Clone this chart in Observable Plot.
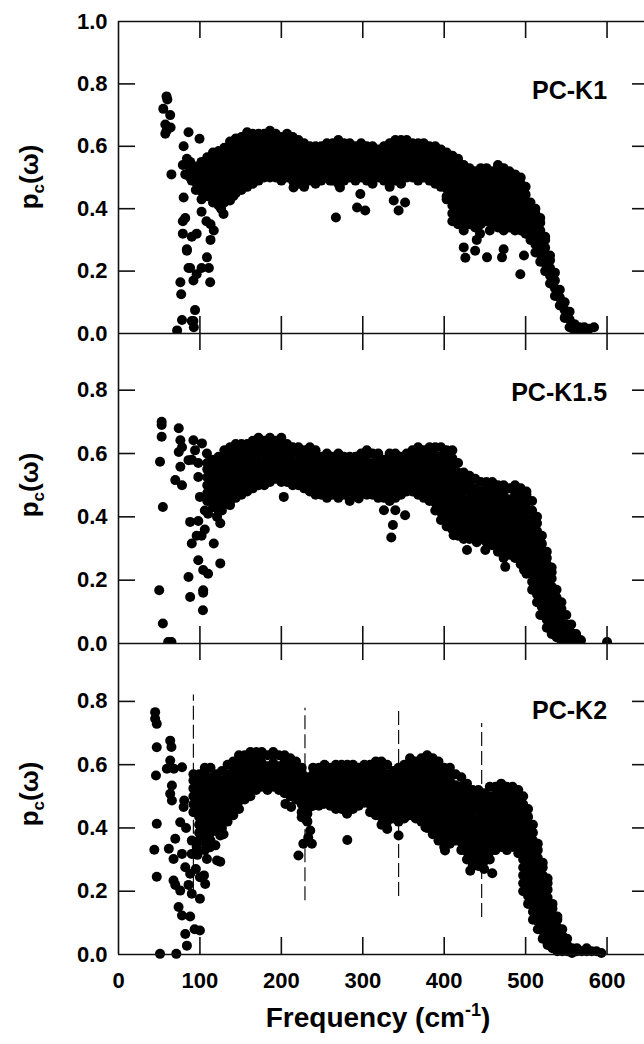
<!DOCTYPE html>
<html>
<head>
<meta charset="utf-8">
<script src="https://cdn.jsdelivr.net/npm/d3@7"></script>
<script src="https://cdn.jsdelivr.net/npm/@observablehq/plot@0.6"></script>
<style>
  html, body { margin: 0; padding: 0; background: #fff; overflow: hidden; }
  #chart { position: relative; width: 644px; height: 1044px; overflow: hidden; }
  #chart svg { position: absolute; left: 0; overflow: visible; background: transparent; }
</style>
</head>
<body>
<div id="chart"></div>
<script>
// ---------- data ----------
const panelNames = ["PC-K1", "PC-K1.5", "PC-K2"];
const xTicks = [0, 100, 200, 300, 400, 500, 600];
const xTickMarks = [100, 200, 300, 400, 500, 600];
const yTicksTop = [0, 0.2, 0.4, 0.6, 0.8, 1.0];
const yTicksLow = [0, 0.2, 0.4, 0.6, 0.8];
const yTickMarks = [0.2, 0.4, 0.6, 0.8];

// dense band, by frequency column: [frequency, p values...]
const k1Cols = [
[88,.5,.525,.55],[95,.46,.485,.51,.535],[102,.43,.455,.48,.505,.53,.55],[109,.44,.465,.49,.515,.54,.565],
[116,.42,.445,.47,.495,.52,.545,.57,.58],[123,.41,.435,.46,.485,.51,.535,.56,.585],
[130,.42,.445,.47,.495,.52,.545,.57,.595],[137,.44,.465,.49,.515,.54,.565,.59,.615],
[144,.45,.475,.5,.525,.55,.575,.6,.625],[151,.46,.485,.51,.535,.56,.585,.61,.63],
[158,.47,.495,.52,.545,.57,.595,.62,.645],[165,.48,.505,.53,.555,.58,.605,.63,.64],
[172,.49,.515,.54,.565,.59,.615,.64],[179,.5,.525,.55,.575,.6,.625,.64],[186,.5,.525,.55,.575,.6,.625,.65],
[193,.5,.525,.55,.575,.6,.625,.64],[200,.49,.515,.54,.565,.59,.615,.63],[207,.5,.525,.55,.575,.6,.625,.64],
[214,.49,.515,.54,.565,.59,.615,.63],[221,.48,.505,.53,.555,.58,.605,.62],[228,.47,.495,.52,.545,.57,.595,.61],
[235,.49,.515,.54,.565,.59,.6],[242,.48,.505,.53,.555,.58,.6],[249,.49,.515,.54,.565,.59,.6],
[256,.5,.525,.55,.575,.6,.61],[263,.49,.515,.54,.565,.59,.61],[270,.48,.505,.53,.555,.58,.605,.62],
[277,.49,.515,.54,.565,.59,.61],[284,.5,.525,.55,.575,.6,.61],[291,.49,.515,.54,.565,.59,.6],
[298,.5,.525,.55,.575,.6,.61],[305,.49,.515,.54,.565,.59,.6],[312,.48,.505,.53,.555,.58,.6],
[319,.5,.525,.55,.575,.59],[326,.49,.515,.54,.565,.59,.6],[333,.47,.495,.52,.545,.57,.595,.61],
[340,.49,.515,.54,.565,.59,.615,.62],[347,.48,.505,.53,.555,.58,.605,.62],[354,.5,.525,.55,.575,.6,.62],
[361,.5,.525,.55,.575,.6,.61],[368,.49,.515,.54,.565,.59,.61],[375,.5,.525,.55,.575,.6,.61],
[382,.49,.515,.54,.565,.59,.6],[389,.48,.505,.53,.555,.58,.6],[396,.47,.495,.52,.545,.57,.59],
[403,.44,.465,.49,.515,.54,.565,.58],[410,.36,.385,.41,.435,.46,.485,.51,.535,.56,.57],
[417,.35,.375,.4,.425,.45,.475,.5,.525,.55,.56],[424,.36,.385,.41,.435,.46,.485,.51,.535,.54],
[431,.35,.375,.4,.425,.45,.475,.5,.525,.53],[438,.34,.365,.39,.415,.44,.465,.49,.515,.52],
[445,.35,.375,.4,.425,.45,.475,.5,.525,.53],[452,.36,.385,.41,.435,.46,.485,.51,.53],
[459,.35,.375,.4,.425,.45,.475,.5,.52],[466,.34,.365,.39,.415,.44,.465,.49,.515,.54],
[473,.33,.355,.38,.405,.43,.455,.48,.505,.53],[480,.34,.365,.39,.415,.44,.465,.49,.515,.52],
[487,.33,.355,.38,.405,.43,.455,.48,.505,.51],[494,.33,.355,.38,.405,.43,.455,.48,.5],
[500,.32,.345,.37,.395,.42,.445,.47],[506,.3,.325,.35,.375,.4,.42],[512,.26,.285,.31,.335,.36,.385,.4],
[518,.23,.255,.28,.305,.33,.355,.37],[524,.2,.225,.25,.275,.3,.31],[530,.16,.185,.21,.235,.25],
[536,.12,.145,.17,.195],[542,.09,.115,.14],[548,.05,.075,.1],[554,.02,.045,.07],[560,.01,.03],
[566,.01,.02],[572,.01,.02],[578,.015],[584,.02]
];
const k1Out = [
[59,.76],[60,.75],[55,.72],[63.5,.70],[57.5,.67],[64,.66],[59,.65],[57.5,.64],[65,.51],[86,.645],
[99.5,.624],[80,.60],[84,.56],[79,.54],[82,.51],[90,.49],[100,.475],[80,.436],[82,.37],[79,.36],
[79,.32],[84,.27],[90,.31],[96,.32],[102,.39],[108,.36],[113,.35],[117,.33],[113,.30],[86,.21],
[92,.17],[96,.19],[102,.21],[108.6,.244],[111,.21],[112.6,.164],[76,.164],[77,.126],[94,.075],
[78,.043],[90,.04],[72,.01],[92,.04],[92.5,.02],[84,.265],[88,.21],[129,.383],[126,.40],[137,.426],
[141,.44],[215,.468],[267,.372],[293,.404],[303,.394],[344,.394],[352,.42],[338,.426],[272,.468],
[297,.447],[260,.49],[403,.43],[424,.33],[424,.276],[426,.243],[438,.265],[440,.30],[452.6,.244],
[471,.244],[473,.27],[444,.32],[456,.33],[493.5,.19],[498,.25]
];

const k2Cols = [
[109,.45,.475,.5,.525,.55,.57],[116,.43,.455,.48,.505,.53,.555,.58],[123,.42,.445,.47,.495,.52,.545,.57,.59],
[130,.44,.465,.49,.515,.54,.565,.59,.61],[137,.45,.475,.5,.525,.55,.575,.6,.62],
[144,.46,.485,.51,.535,.56,.585,.61,.63],[151,.47,.495,.52,.545,.57,.595,.62,.63],
[158,.48,.505,.53,.555,.58,.605,.63],[165,.49,.515,.54,.565,.59,.615,.64],[172,.5,.525,.55,.575,.6,.625,.65],
[179,.5,.525,.55,.575,.6,.625,.64],[186,.51,.535,.56,.585,.61,.635,.65],[193,.52,.545,.57,.595,.62,.64],
[200,.51,.535,.56,.585,.61,.635,.65],[207,.51,.535,.56,.585,.61,.63],[214,.5,.525,.55,.575,.6,.62],
[221,.5,.525,.55,.575,.6,.62],[228,.49,.515,.54,.565,.59,.61],[235,.48,.505,.53,.555,.58,.605,.62],
[242,.47,.495,.52,.545,.57,.595,.61],[249,.47,.495,.52,.545,.57,.59],[256,.46,.485,.51,.535,.56,.585,.6],
[263,.47,.495,.52,.545,.57,.59],[270,.46,.485,.51,.535,.56,.585,.6],[277,.47,.495,.52,.545,.57,.59],
[284,.48,.505,.53,.555,.58,.59],[291,.47,.495,.52,.545,.57,.59],[298,.48,.505,.53,.555,.58,.6],
[305,.47,.495,.52,.545,.57,.595,.61],[312,.47,.495,.52,.545,.57,.6],[319,.46,.485,.51,.535,.56,.585,.6],
[326,.46,.485,.51,.535,.56,.58],[333,.45,.475,.5,.525,.55,.575,.6],[340,.46,.485,.51,.535,.56,.585,.6],
[347,.47,.495,.52,.545,.57,.59],[354,.48,.505,.53,.555,.58,.6],[361,.48,.505,.53,.555,.58,.61],
[368,.47,.495,.52,.545,.57,.595,.62],[375,.46,.485,.51,.535,.56,.585,.61],
[382,.45,.475,.5,.525,.55,.575,.6,.62],[389,.42,.445,.47,.495,.52,.545,.57,.595,.62],
[396,.39,.415,.44,.465,.49,.515,.54,.565,.59,.62],[403,.37,.395,.42,.445,.47,.495,.52,.545,.57,.595,.61],
[410,.36,.385,.41,.435,.46,.485,.51,.535,.56,.585,.61],[417,.34,.365,.39,.415,.44,.465,.49,.515,.54,.57],
[424,.33,.355,.38,.405,.43,.455,.48,.505,.53,.54],[431,.33,.355,.38,.405,.43,.455,.48,.505,.53],
[438,.34,.365,.39,.415,.44,.465,.49,.52],[445,.33,.355,.38,.405,.43,.455,.48,.51],
[452,.32,.345,.37,.395,.42,.445,.47,.495,.51],[459,.31,.335,.36,.385,.41,.435,.46,.485,.51],
[466,.29,.315,.34,.365,.39,.415,.44,.465,.49,.5],[473,.27,.295,.32,.345,.37,.395,.42,.445,.47,.5],
[480,.28,.305,.33,.355,.38,.405,.43,.455,.49],[487,.27,.295,.32,.345,.37,.395,.42,.445,.47,.5],
[494,.25,.275,.3,.325,.35,.375,.4,.425,.45,.475,.49],[501,.22,.245,.27,.295,.32,.345,.37,.395,.42,.445,.47,.48],
[508,.17,.195,.22,.245,.27,.295,.32,.345,.37,.395,.42,.45],[514,.13,.155,.18,.205,.23,.255,.28,.305,.33,.355,.38,.4],
[520,.09,.115,.14,.165,.19,.215,.24,.265,.29,.315,.34],[526,.05,.075,.1,.125,.15,.175,.2,.225,.25,.27,.29],
[532,.03,.055,.08,.105,.13,.155,.18,.205,.225,.24],[538,.02,.045,.07,.095,.12,.145,.17],
[544,.01,.035,.06,.085,.11,.13],[550,.01,.035,.06,.09],[556,.01,.035,.06],[562,.01,.03],[568,.01]
];
const k2Out = [
[53,.70],[53,.69],[53,.653],[51,.574],[54.5,.431],[50,.168],[54.5,.063],[61,.005],[65,.005],[74,.68],
[76,.642],[74,.605],[78,.62],[69.7,.516],[78,.5],[76,.558],[86,.579],[92,.642],[102.5,.632],[94,.61],
[90,.58],[98,.57],[108.6,.60],[98,.526],[100,.463],[88,.384],[98,.387],[90,.316],[96,.34],[106,.36],
[102,.34],[117,.316],[125,.253],[98,.263],[104,.232],[110,.22],[86,.21],[88,.147],[104,.168],[104,.16],
[103.7,.105],[110,.41],[106,.42],[121,.40],[127,.42],[137,.437],[150,.474],[125,.38],[203,.463],
[295,.458],[284,.45],[326,.421],[340,.421],[352,.405],[337,.374],[335,.335],[395,.431],[403,.395],
[411.6,.342],[420,.36],[428,.295],[440,.32],[450.5,.295],[475,.242],[498,.232],[518,.131],[518,.09],
[538.6,.074],[547,.02],[567,.01],[600,.005]
];

const k3Cols = [
[92,.45,.475,.5,.525,.55,.57],[99,.36,.385,.41,.435,.46,.485,.51,.535,.56,.57],
[106,.33,.355,.38,.405,.43,.455,.48,.505,.53,.555,.58,.59],[113,.36,.385,.41,.435,.46,.485,.51,.535,.56,.59],
[120,.39,.415,.44,.465,.49,.515,.54,.57],[127,.4,.425,.45,.475,.5,.525,.55,.58],
[134,.42,.445,.47,.495,.52,.545,.57,.6],[141,.44,.465,.49,.515,.54,.565,.59,.61],
[148,.46,.485,.51,.535,.56,.585,.61,.63],[155,.49,.515,.54,.565,.59,.615,.63],
[162,.5,.525,.55,.575,.6,.625,.64],[169,.52,.545,.57,.595,.62,.64],[176,.53,.555,.58,.605,.63,.64],
[183,.52,.545,.57,.595,.63],[190,.53,.555,.58,.605,.63,.64],[197,.52,.545,.57,.595,.63],
[204,.51,.535,.56,.585,.61,.63],[211,.5,.525,.55,.575,.6,.62],[218,.49,.515,.54,.565,.59,.61],
[225,.45,.475,.5,.525,.55,.575,.59],[232,.42,.445,.47,.495,.52,.545,.56],[239,.47,.495,.52,.545,.57,.59],
[246,.47,.495,.52,.545,.57,.59],[253,.48,.505,.53,.555,.58,.6],[260,.47,.495,.52,.545,.57,.59],
[267,.46,.485,.51,.535,.56,.585,.6],[274,.46,.485,.51,.535,.56,.585,.6],[281,.45,.475,.5,.525,.55,.575,.6],
[288,.46,.485,.51,.535,.56,.585,.6],[295,.47,.495,.52,.545,.57,.59],[302,.48,.505,.53,.555,.58,.6],
[309,.45,.475,.5,.525,.55,.575,.6],[316,.44,.465,.49,.515,.54,.565,.59,.61],
[323,.41,.435,.46,.485,.51,.535,.56,.585,.61],[330,.42,.445,.47,.495,.52,.545,.57,.6],
[337,.43,.455,.48,.505,.53,.555,.58],[344,.42,.445,.47,.495,.52,.545,.57,.59],
[351,.43,.455,.48,.505,.53,.555,.58,.6],[358,.44,.465,.49,.515,.54,.565,.59,.62],
[365,.43,.455,.48,.505,.53,.555,.58,.61],[372,.42,.445,.47,.495,.52,.545,.57,.595,.62],
[379,.4,.425,.45,.475,.5,.525,.55,.575,.6,.63],[386,.38,.405,.43,.455,.48,.505,.53,.555,.58,.605,.62],
[393,.36,.385,.41,.435,.46,.485,.51,.535,.56,.585,.61],[400,.34,.365,.39,.415,.44,.465,.49,.515,.54,.565,.59],
[407,.35,.375,.4,.425,.45,.475,.5,.525,.55,.575,.59],[414,.36,.385,.41,.435,.46,.485,.51,.535,.57],
[421,.33,.355,.38,.405,.43,.455,.48,.505,.53,.56],[428,.3,.325,.35,.375,.4,.425,.45,.475,.5,.525,.54],
[435,.28,.305,.33,.355,.38,.405,.43,.455,.48,.505,.52],[442,.28,.305,.33,.355,.38,.405,.43,.455,.48,.505,.52],
[449,.27,.295,.32,.345,.37,.395,.42,.445,.47,.495,.51],[456,.3,.325,.35,.375,.4,.425,.45,.475,.5,.53],
[463,.33,.355,.38,.405,.43,.455,.48,.505,.53],[470,.34,.365,.39,.415,.44,.465,.49,.515,.54],
[477,.33,.355,.38,.405,.43,.455,.48,.505,.53],[484,.34,.365,.39,.415,.44,.465,.49,.515,.53],
[491,.32,.345,.37,.395,.42,.445,.47,.495,.52],[497,.2,.225,.25,.275,.3,.325,.35,.375,.4,.425,.45,.475,.5],
[503,.16,.185,.21,.235,.26,.285,.31,.335,.36,.385,.41,.435,.46],
[509,.11,.135,.16,.185,.21,.235,.26,.285,.31,.335,.36,.385,.41],
[515,.08,.105,.13,.155,.18,.205,.23,.255,.28,.305,.33,.35],[521,.05,.075,.1,.125,.15,.175,.2,.225,.25,.275,.29],
[527,.03,.055,.08,.105,.13,.155,.18,.205,.225,.24],[533,.02,.045,.07,.095,.12,.145,.16],
[539,.01,.035,.06,.085,.11,.12],[545,.01,.035,.06,.08],[551,.01,.03,.05],[557,.005,.02],[563,.01,.02],
[569,.01],[575,.01,.02],[581,.01],[587,.01],[593,.005]
];
const k3Out = [
[45,.766],[45,.745],[47,.729],[47,.655],[46,.566],[47,.413],[44,.331],[47,.246],[51,.002],[63.5,.676],
[65,.656],[63.5,.613],[59.4,.587],[68,.587],[65.6,.534],[63.5,.508],[65.6,.487],[78,.592],[80.7,.487],
[80,.466],[75.8,.418],[83,.40],[69.7,.366],[61.8,.334],[67.6,.302],[78,.318],[82,.276],[67.6,.234],
[69.7,.22],[75.8,.202],[88,.255],[86,.22],[90,.192],[100,.176],[73.8,.15],[78,.123],[88,.12],[82,.065],
[84,.028],[71,.002],[100,.076],[93.5,.08],[95,.27],[100,.244],[105,.25],[106.5,.223],[97,.315],
[108.6,.302],[121,.297],[125,.293],[90,.318],[90,.36],[96,.34],[112.6,.339],[119,.345],[125,.376],
[129,.38],[205,.476],[212,.466],[221,.313],[227,.35],[235.5,.392],[237.5,.35],[233,.37],[225,.434],
[231,.424],[229,.466],[235,.466],[241,.476],[252,.476],[280.6,.445],[281,.362],[344,.376],[330,.397],
[377,.402],[401,.35],[401,.329],[432,.265],[446,.287],[459,.257],[437,.297]
];

// dashed reference lines in the PC-K2 panel
const dashFreq = [92, 229, 344, 446];
const dashTop = [0.82, 0.778, 0.777, 0.73];
const dashBottom = [0.2, 0.17, 0.183, 0.117];

// ---------- build ----------
const toPoints = (cols, out) =>
  cols.flatMap(([f, ...vs]) => vs.map(v => ({f, v}))).concat(out.map(([f, v]) => ({f, v})));
const series = [toPoints(k1Cols, k1Out), toPoints(k2Cols, k2Out), toPoints(k3Cols, k3Out)];
const dashes = dashFreq.map((f, i) => ({f, top: dashTop[i], bottom: dashBottom[i]}));

const FONT = "'Liberation Sans', Arial, Helvetica, sans-serif";
const W = 644, ML = 118, PW = W - ML;
const INK = "#111";
// layout: [svg top, marginTop, plot height, marginBottom, y max]
const layout = [
  [0, 21, 312, 20, 1.0],
  [313, 20, 310, 20, 0.979],
  [623, 20, 311, 60, 0.983]
];
const labelY = [0.777, 0.79, 0.771];

const chart = document.getElementById("chart");

layout.forEach(([top, mt, ph, mb, ymax], i) => {
  const last = i === 2;
  const marks = [];
  if (last) {
    marks.push(Plot.ruleX(dashes, {x: "f", y1: "bottom", y2: "top", stroke: INK, strokeWidth: 1.2, strokeDasharray: "14,5"}));
  }
  marks.push(
    Plot.dot(series[i], {x: "f", y: "v", r: 5, fill: "#000", stroke: null, clip: !last}),
    Plot.ruleX([0], {stroke: INK, strokeWidth: 1.6}),
    Plot.ruleY([0], {stroke: INK, strokeWidth: 1.6}),
    // inward ticks: left, right, top, bottom
    Plot.tickY(yTickMarks, {y: d => d, insetRight: PW - 17, stroke: INK, strokeWidth: 1.6}),
    Plot.tickY(yTickMarks, {y: d => d, insetLeft: PW - 12, stroke: INK, strokeWidth: 1.6}),
    Plot.tickX(xTickMarks, {x: d => d, insetBottom: ph - 17, stroke: INK, strokeWidth: 1.6}),
    Plot.tickX(xTickMarks, {x: d => d, insetTop: ph - 17, stroke: INK, strokeWidth: 1.6}),
    Plot.axisY({ticks: i === 0 ? yTicksTop : yTicksLow, tickFormat: d3.format(".1f"), tickSize: 0, tickPadding: 11,
      label: null, fontSize: 22, fontWeight: "bold", fill: "#000"}),
    Plot.text([panelNames[i]], {x: () => 600, y: () => labelY[i], text: d => d, textAnchor: "end",
      fontSize: 25, fontWeight: "bold", fill: "#000"})
  );
  if (i === 0) marks.push(Plot.ruleY([1], {stroke: INK, strokeWidth: 1.6}));
  if (last) {
    marks.push(Plot.axisX({ticks: xTicks, tickFormat: d => String(d), tickSize: 0, tickPadding: 18,
      label: null, fontSize: 22, fontWeight: "bold", fill: "#000"}));
  } else {
    marks.push(Plot.axisX({ticks: [], label: null}));
  }
  const svg = Plot.plot({
    width: W,
    height: mt + ph + mb,
    marginLeft: ML, marginRight: 0, marginTop: mt, marginBottom: mb,
    x: {domain: [0, 646]},
    y: {domain: [0, ymax]},
    style: {fontFamily: FONT, background: "transparent", overflow: "visible"},
    marks
  });
  svg.style.top = top + "px";
  chart.appendChild(svg);
});

// ---------- axis titles ----------
const ov = d3.select(chart).append("svg")
  .attr("width", W).attr("height", 1044)
  .style("top", "0px").style("pointer-events", "none")
  .attr("font-family", FONT).attr("font-weight", "bold").attr("fill", "#000");

[177, 485, 794].forEach(yc => {
  const t = ov.append("text")
    .attr("transform", `translate(38,${yc}) rotate(-90)`)
    .attr("text-anchor", "middle").attr("font-size", 26);
  t.append("tspan").text("p");
  t.append("tspan").attr("font-size", 17).attr("dy", 6).text("c");
  t.append("tspan").attr("dy", -6).text("(ω)");
});

const xl = ov.append("text").attr("x", 378).attr("y", 1027)
  .attr("text-anchor", "middle").attr("font-size", 28);
xl.append("tspan").text("Frequency (cm");
xl.append("tspan").attr("font-size", 18).attr("dy", -11).text("-1");
xl.append("tspan").attr("dy", 11).text(")");
</script>
</body>
</html>
